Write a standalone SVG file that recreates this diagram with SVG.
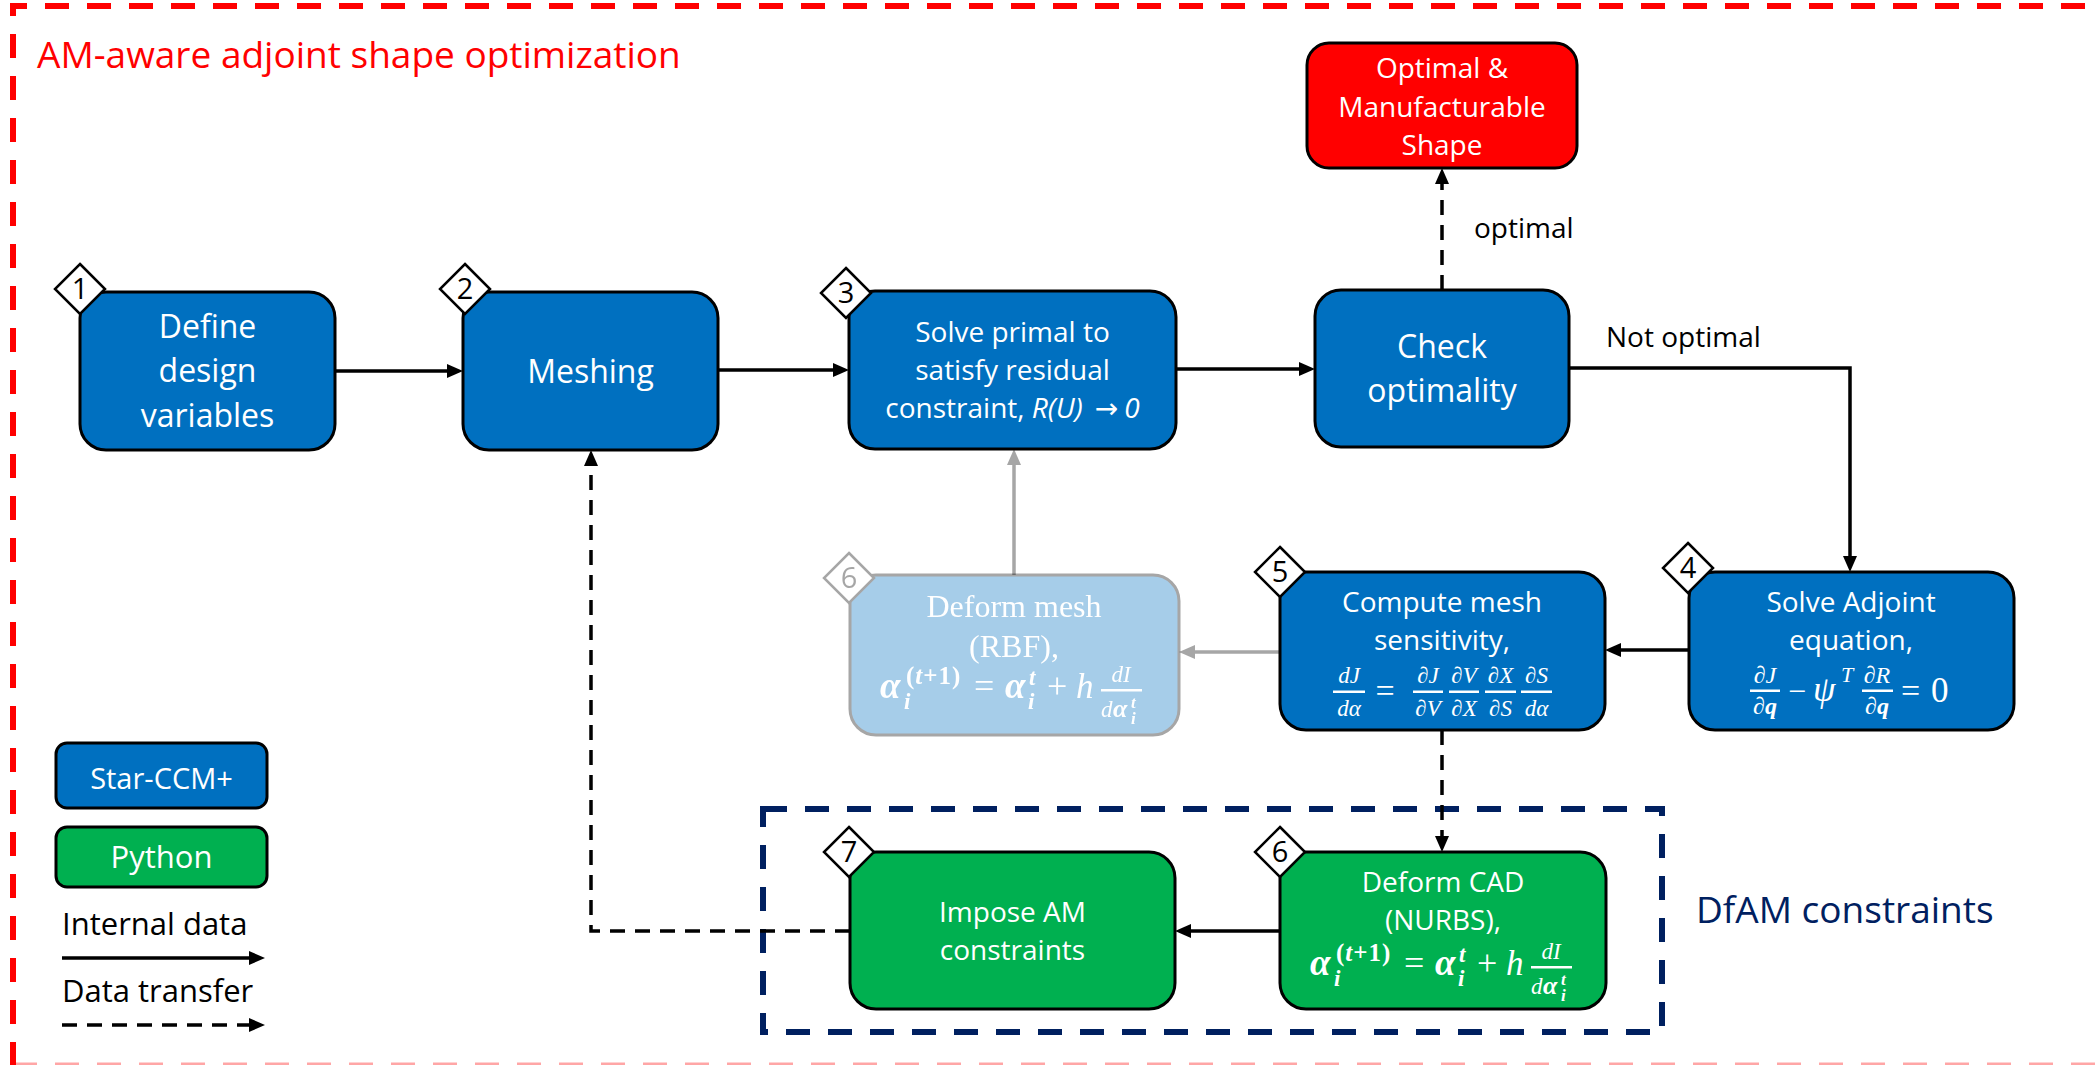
<svg xmlns="http://www.w3.org/2000/svg" width="2099" height="1065" viewBox="0 0 2099 1065">
  <defs>
    <style>
      .box { stroke: #000; stroke-width: 3; }
      .blue { fill: #0070C0; }
      .green { fill: #00B050; }
      .red { fill: #FF0000; }
      .t { font-family: 'Open Sans', 'Noto Sans', 'DejaVu Sans', sans-serif; fill: #fff; text-anchor: middle; }
      .lbl { font-family: 'Open Sans', 'Noto Sans', 'DejaVu Sans', sans-serif; fill: #000; }
      .m { font-family: 'Liberation Serif', 'DejaVu Serif', serif; font-style: italic; fill: #fff; }
      .up { font-style: normal; }
      .dia { fill: #fff; stroke: #000; stroke-width: 2.5; }
      .dnum { font-family: 'Open Sans', 'Noto Sans', sans-serif; font-size: 29px; text-anchor: middle; fill: #000; }
      .conn { fill: none; stroke: #000; stroke-width: 3.5; }
      .gray { fill: none; stroke: #A6A6A6; stroke-width: 3.5; }
      .dash { stroke-dasharray: 15 10; }
      .bar { fill: #fff; }
    </style>
    <marker id="arr" viewBox="0 0 16 14" refX="9" refY="7" markerWidth="16" markerHeight="14" markerUnits="userSpaceOnUse" orient="auto">
      <path d="M0,0 L16,7 L0,14 z" fill="#000"/>
    </marker>
    <marker id="arrG" viewBox="0 0 16 14" refX="9" refY="7" markerWidth="16" markerHeight="14" markerUnits="userSpaceOnUse" orient="auto">
      <path d="M0,0 L16,7 L0,14 z" fill="#A6A6A6"/>
    </marker>
  </defs>

  <rect width="2099" height="1065" fill="#fff"/>

  <!-- outer frame -->
  <g id="frame">
    <path d="M13,1066 V6 H2099" fill="none" stroke="#FF0000" stroke-width="6" stroke-dasharray="24 18"/>
    <line x1="13" y1="1064" x2="2099" y2="1064" stroke="#FF0000" stroke-opacity="0.35" stroke-width="3" stroke-dasharray="24 18"/>
    <text x="37" y="68" font-family="'Open Sans', 'Noto Sans', sans-serif" font-size="37" fill="#FF0000">AM-aware adjoint shape optimization</text>
  </g>

  <!-- DfAM constraints region -->
  <g id="dfam">
    <rect x="763" y="809" width="899" height="223" fill="none" stroke="#002060" stroke-width="6" stroke-dasharray="24 18"/>
    <text x="1696" y="923" font-family="'Open Sans', 'Noto Sans', sans-serif" font-size="37" fill="#002060">DfAM constraints</text>
  </g>

  <!-- connectors -->
  <g id="connectors">
    <path class="conn" d="M335,371 H456" marker-end="url(#arr)"/>
    <path class="conn" d="M718,370 H842" marker-end="url(#arr)"/>
    <path class="conn" d="M1176,369 H1308" marker-end="url(#arr)"/>
    <path class="conn dash" d="M1442,290 V175" marker-end="url(#arr)"/>
    <path class="conn" d="M1569,368 H1850 V565" marker-end="url(#arr)"/>
    <path class="conn" d="M1689,650 H1612" marker-end="url(#arr)"/>
    <path class="gray" d="M1280,652 H1186" marker-end="url(#arrG)"/>
    <path class="gray" d="M1014,575 V456" marker-end="url(#arrG)"/>
    <path class="conn dash" d="M1442,730 V845" marker-end="url(#arr)"/>
    <path class="conn" d="M1280,931 H1182" marker-end="url(#arr)"/>
    <path class="conn dash" d="M850,931 H591 V457" marker-end="url(#arr)"/>
    <text class="lbl" x="1474" y="238" font-size="28">optimal</text>
    <text class="lbl" x="1606" y="347" font-size="28">Not optimal</text>
  </g>

  <!-- 1: design variables -->
  <g id="n1">
    <rect class="box blue" x="80" y="292" width="255" height="158" rx="26"/>
    <text class="t" font-size="32"><tspan x="207.5" y="338">Define</tspan><tspan x="207.5" y="382">design</tspan><tspan x="207.5" y="427">variables</tspan></text>
    <polygon class="dia" points="80,264 105,289 80,314 55,289"/>
    <text class="dnum" x="80" y="299">1</text>
  </g>

  <!-- 2: meshing -->
  <g id="n2">
    <rect class="box blue" x="463" y="292" width="255" height="158" rx="26"/>
    <text class="t" font-size="32" x="590.5" y="383">Meshing</text>
    <polygon class="dia" points="465,264 490,289 465,314 440,289"/>
    <text class="dnum" x="465" y="299">2</text>
  </g>

  <!-- 3: primal solve -->
  <g id="n3">
    <rect class="box blue" x="849" y="291" width="327" height="158" rx="26"/>
    <text class="t" font-size="28"><tspan x="1012.5" y="342">Solve primal to</tspan><tspan x="1012.5" y="380">satisfy residual</tspan></text>
    <text class="t" font-size="28" x="1012.5" y="418">constraint, <tspan font-style="italic">R(U)</tspan><tspan dx="12">→</tspan><tspan dx="6" font-style="italic">0</tspan></text>
    <polygon class="dia" points="846,268 871,293 846,318 821,293"/>
    <text class="dnum" x="846" y="303">3</text>
  </g>

  <!-- optimality check -->
  <g id="check">
    <rect class="box blue" x="1315" y="290" width="254" height="157" rx="26"/>
    <text class="t" font-size="32"><tspan x="1442" y="358">Check</tspan><tspan x="1442" y="402">optimality</tspan></text>
  </g>

  <!-- final shape -->
  <g id="final">
    <rect class="box red" x="1307" y="43" width="270" height="125" rx="22"/>
    <text class="t" font-size="28"><tspan x="1442" y="78">Optimal &amp;</tspan><tspan x="1442" y="117">Manufacturable</tspan><tspan x="1442" y="155">Shape</tspan></text>
  </g>

  <!-- 4: adjoint -->
  <g id="n4">
    <rect class="box blue" x="1689" y="572" width="325" height="158" rx="26"/>
    <text class="t" font-size="28"><tspan x="1851" y="612">Solve Adjoint</tspan><tspan x="1851" y="650">equation,</tspan></text>
    <g class="m">
      <text x="1765" y="683" font-size="24" text-anchor="middle">∂J</text>
      <rect class="bar" x="1750" y="689.5" width="30" height="2.5"/>
      <text x="1765" y="714" font-size="24" text-anchor="middle">∂<tspan font-weight="bold">q</tspan></text>
      <text class="up" x="1797" y="702" font-size="32" text-anchor="middle">−</text>
      <text x="1813" y="701" font-size="36">ψ</text>
      <text x="1841" y="682" font-size="22">T</text>
      <text x="1877" y="683" font-size="24" text-anchor="middle">∂R</text>
      <rect class="bar" x="1862" y="689.5" width="31" height="2.5"/>
      <text x="1877" y="714" font-size="24" text-anchor="middle">∂<tspan font-weight="bold">q</tspan></text>
      <text class="up" x="1910.5" y="702" font-size="34" text-anchor="middle">=</text>
      <text class="up" x="1931" y="702" font-size="35">0</text>
    </g>
    <polygon class="dia" points="1688,543 1713,568 1688,593 1663,568"/>
    <text class="dnum" x="1688" y="578">4</text>
  </g>

  <!-- 5: mesh sensitivity -->
  <g id="n5">
    <rect class="box blue" x="1280" y="572" width="325" height="158" rx="26"/>
    <text class="t" font-size="28"><tspan x="1442" y="612">Compute mesh</tspan><tspan x="1442" y="650">sensitivity,</tspan></text>
    <g class="m" font-size="23" text-anchor="middle">
      <text x="1349" y="683">dJ</text>
      <rect class="bar" x="1333" y="690.5" width="32" height="2.5"/>
      <text x="1349" y="716">dα</text>
      <text class="up" x="1385" y="702" font-size="34">=</text>
      <text x="1428" y="683">∂J</text>
      <rect class="bar" x="1413" y="690.5" width="30" height="2.5"/>
      <text x="1428" y="716">∂V</text>
      <text x="1464" y="683">∂V</text>
      <rect class="bar" x="1449" y="690.5" width="30" height="2.5"/>
      <text x="1464" y="716">∂X</text>
      <text x="1500.5" y="683">∂X</text>
      <rect class="bar" x="1485" y="690.5" width="31" height="2.5"/>
      <text x="1500.5" y="716">∂S</text>
      <text x="1536.5" y="683">∂S</text>
      <rect class="bar" x="1521" y="690.5" width="31" height="2.5"/>
      <text x="1536.5" y="716">dα</text>
    </g>
    <polygon class="dia" points="1280,547 1305,572 1280,597 1255,572"/>
    <text class="dnum" x="1280" y="582">5</text>
  </g>

  <!-- 6 (faded): RBF mesh deformation -->
  <g id="n6-rbf" opacity="0.35">
    <rect class="box blue" x="850" y="575" width="329" height="160" rx="26"/>
    <text font-family="'Liberation Serif', 'DejaVu Serif', serif" font-size="32" fill="#fff" text-anchor="middle"><tspan x="1014" y="617">Deform mesh</tspan><tspan x="1014" y="657">(RBF),</tspan></text>
    <g class="m" transform="translate(850,575)">
      <text x="30" y="123" font-size="37" font-weight="bold">α</text>
      <text x="54" y="134" font-size="23" font-weight="bold">i</text>
      <text class="up" x="56" y="109" font-size="25" font-weight="bold" letter-spacing="1">(<tspan font-style="italic">t</tspan>+1)</text>
      <text class="up" x="124" y="123" font-size="36">=</text>
      <text x="155" y="123" font-size="37" font-weight="bold">α</text>
      <text x="179" y="110" font-size="23" font-weight="bold">t</text>
      <text x="178" y="134" font-size="23" font-weight="bold">i</text>
      <text class="up" x="197" y="123" font-size="36">+</text>
      <text x="226" y="123" font-size="35">h</text>
      <rect class="bar" x="251" y="114" width="41" height="2.5"/>
      <text x="271" y="107" font-size="23" text-anchor="middle">dI</text>
      <text x="251" y="142" font-size="23">d</text>
      <text x="263" y="142" font-size="26" font-weight="bold">α</text>
      <text x="281" y="133" font-size="17" font-weight="bold">t</text>
      <text x="281" y="149" font-size="17" font-weight="bold">i</text>
    </g>
    <polygon class="dia" points="849,553 874,578 849,603 824,578"/>
    <text class="dnum" x="849" y="588">6</text>
  </g>

  <!-- 6: CAD deformation -->
  <g id="n6-cad">
    <rect class="box green" x="1280" y="852" width="326" height="157" rx="26"/>
    <text class="t" font-size="28"><tspan x="1443" y="892">Deform CAD</tspan><tspan x="1443" y="930">(NURBS),</tspan></text>
    <g class="m" transform="translate(1280,852)">
      <text x="30" y="123" font-size="37" font-weight="bold">α</text>
      <text x="54" y="134" font-size="23" font-weight="bold">i</text>
      <text class="up" x="56" y="109" font-size="25" font-weight="bold" letter-spacing="1">(<tspan font-style="italic">t</tspan>+1)</text>
      <text class="up" x="124" y="123" font-size="36">=</text>
      <text x="155" y="123" font-size="37" font-weight="bold">α</text>
      <text x="179" y="110" font-size="23" font-weight="bold">t</text>
      <text x="178" y="134" font-size="23" font-weight="bold">i</text>
      <text class="up" x="197" y="123" font-size="36">+</text>
      <text x="226" y="123" font-size="35">h</text>
      <rect class="bar" x="251" y="114" width="41" height="2.5"/>
      <text x="271" y="107" font-size="23" text-anchor="middle">dI</text>
      <text x="251" y="142" font-size="23">d</text>
      <text x="263" y="142" font-size="26" font-weight="bold">α</text>
      <text x="281" y="133" font-size="17" font-weight="bold">t</text>
      <text x="281" y="149" font-size="17" font-weight="bold">i</text>
    </g>
    <polygon class="dia" points="1280,827 1305,852 1280,877 1255,852"/>
    <text class="dnum" x="1280" y="862">6</text>
  </g>

  <!-- 7: AM constraints -->
  <g id="n7">
    <rect class="box green" x="850" y="852" width="325" height="157" rx="26"/>
    <text class="t" font-size="28"><tspan x="1012.5" y="922">Impose AM</tspan><tspan x="1012.5" y="960">constraints</tspan></text>
    <polygon class="dia" points="849,827 874,852 849,877 824,852"/>
    <text class="dnum" x="849" y="862">7</text>
  </g>

  <!-- legend -->
  <g id="legend">
    <rect class="box blue" x="56" y="743" width="211" height="65" rx="11"/>
    <text class="t" x="161.5" y="789" font-size="29">Star-CCM+</text>
    <rect class="box green" x="56" y="827" width="211" height="60" rx="11"/>
    <text class="t" x="161.5" y="868" font-size="31">Python</text>
    <text class="lbl" x="62" y="935" font-size="31">Internal data</text>
    <path class="conn" d="M62,958 H258" marker-end="url(#arr)"/>
    <text class="lbl" x="62" y="1002" font-size="31">Data transfer</text>
    <path class="conn dash" d="M62,1025 H258" marker-end="url(#arr)"/>
  </g>
</svg>
